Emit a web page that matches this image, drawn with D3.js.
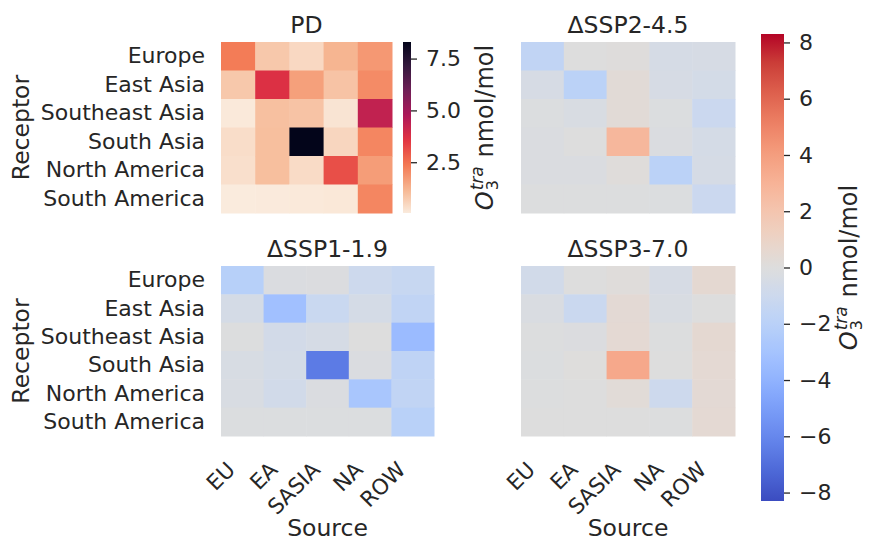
<!DOCTYPE html>
<html>
<head>
<meta charset="utf-8">
<script src="https://cdn.jsdelivr.net/npm/d3@7"></script>
<style>
  body { margin: 0; background: #fff; }
  text { font-family: "DejaVu Sans", sans-serif; fill: #262626; }
</style>
</head>
<body>
<script>
// ---- data ----
var receptors = ["Europe", "East Asia", "Southeast Asia", "South Asia", "North America", "South America"];
var sources = ["EU", "EA", "SASIA", "NA", "ROW"];

// rows = receptors, cols = sources (nmol/mol)
var pd = [
  [2.3, 0.8, 0.46, 1.2, 1.77],
  [0.8, 3.7, 1.6, 0.9, 2.0],
  [0.1, 0.97, 0.9, 0.2, 4.3],
  [0.35, 1.0, 8.3, 0.5, 2.1],
  [0.3, 1.0, 0.4, 3.1, 1.67],
  [0.05, 0.07, 0.1, 0.12, 2.1]
];
var ssp245 = [
  [-1.6, 0.0, 0.1, -0.5, -0.4],
  [-0.4, -1.9, 0.3, -0.4, -0.6],
  [-0.1, -0.3, 0.3, -0.1, -1.1],
  [-0.2, 0.0, 2.8, -0.2, -0.55],
  [-0.2, -0.2, 0.15, -1.9, -0.5],
  [-0.05, -0.05, -0.05, -0.1, -1.1]
];
var ssp119 = [
  [-2.1, -0.2, -0.15, -1.0, -1.3],
  [-0.55, -3.2, -1.2, -0.55, -1.6],
  [-0.05, -0.65, -0.5, 0.0, -3.5],
  [-0.35, -0.6, -6.5, -0.2, -1.7],
  [-0.3, -0.75, -0.2, -2.8, -1.6],
  [-0.1, -0.1, -0.1, -0.1, -2.0]
];
var ssp370 = [
  [-0.75, 0.0, 0.15, -0.4, 0.5],
  [-0.25, -1.15, 0.4, -0.3, 0.0],
  [-0.05, -0.15, 0.45, -0.05, 0.5],
  [-0.1, 0.05, 3.5, 0.0, 0.45],
  [-0.05, 0.0, 0.25, -1.0, 0.4],
  [0.0, 0.0, 0.0, -0.05, 0.45]
];
var pdTicks = [2.5, 5.0, 7.5];
var diffTicks = [-8, -6, -4, -2, 0, 2, 4, 6, 8];

// colormaps (rocket, coolwarm)
var rocketStops = ["#03051a", "#35193e", "#701f57", "#ad1759", "#e13342", "#f37651", "#f6b48f", "#faebdd"];
var coolwarmStops = ["#3b4cc0", "#4d68d7", "#6282ea", "#779af7", "#8db0fe", "#a3c2ff", "#b8d0f9", "#ccd9ee",
  "#dddddd", "#ecd3c5", "#f5c4ad", "#f7b194", "#f49a7b", "#ec7f63", "#de604d", "#cb3e38", "#b40426"];

var rocket = d3.piecewise(d3.interpolateRgb, rocketStops);
var coolwarm = d3.piecewise(d3.interpolateRgb, coolwarmStops);

var flatPd = d3.merge(pd);
var pdMin = d3.min(flatPd), pdMax = d3.max(flatPd);
var lim = pdMax;
var pdT = d3.scaleLinear().domain([pdMin, pdMax]).range([1, 0]).clamp(true);
var dT = d3.scaleLinear().domain([-lim, lim]).range([0, 1]).clamp(true);
function pdColor(v) { return rocket(pdT(v)); }
function dColor(v) { return coolwarm(dT(v)); }

var tickFont = "22px", labelFont = "23.5px";

var svg = d3.select("body").append("svg")
  .attr("width", 870)
  .attr("height", 542);

var panels = [
  {data: pd, title: "PD", x0: 221, x1: 392, y0: 42, y1: 213, color: pdColor, yl: true, xl: false},
  {data: ssp245, title: "\u0394SSP2-4.5", x0: 521, x1: 735, y0: 42, y1: 213, color: dColor, yl: false, xl: false},
  {data: ssp119, title: "\u0394SSP1-1.9", x0: 221, x1: 434, y0: 266, y1: 436, color: dColor, yl: true, xl: true},
  {data: ssp370, title: "\u0394SSP3-7.0", x0: 521, x1: 735, y0: 266, y1: 436, color: dColor, yl: false, xl: true}
];

panels.forEach(function(p) {
  var x = d3.scaleBand().domain(sources).range([p.x0, p.x1]);
  var y = d3.scaleBand().domain(receptors).range([p.y0, p.y1]);
  var g = svg.append("g");

  var cells = [];
  p.data.forEach(function(row, i) {
    row.forEach(function(v, j) { cells.push({r: receptors[i], s: sources[j], v: v}); });
  });

  g.selectAll("rect").data(cells).enter().append("rect")
    .attr("x", function(d) { return x(d.s); })
    .attr("y", function(d) { return y(d.r); })
    .attr("width", x.bandwidth() + 0.5)
    .attr("height", y.bandwidth() + 0.5)
    .attr("fill", function(d) { return p.color(d.v); });

  g.append("text")
    .attr("x", (p.x0 + p.x1) / 2)
    .attr("y", p.y0 - 9)
    .attr("text-anchor", "middle")
    .style("font-size", labelFont)
    .text(p.title);

  if (p.yl) {
    var ya = g.append("g")
      .attr("transform", "translate(" + p.x0 + ",0)")
      .call(d3.axisLeft(y).tickSize(0).tickPadding(16));
    ya.select(".domain").remove();
    ya.selectAll("text").style("font-size", tickFont).style("font-family", "DejaVu Sans").attr("fill", "#262626");

    g.append("text")
      .attr("transform", "translate(29," + (p.y0 + p.y1) / 2 + ") rotate(-90)")
      .attr("text-anchor", "middle")
      .style("font-size", labelFont)
      .text("Receptor");
  }

  if (p.xl) {
    var xa = g.append("g")
      .attr("transform", "translate(0," + p.y1 + ")")
      .call(d3.axisBottom(x).tickSize(0));
    xa.select(".domain").remove();
    xa.selectAll("text")
      .attr("x", 0).attr("y", 0).attr("dy", 0)
      .attr("text-anchor", "end")
      .attr("transform", "translate(-6,35) rotate(-45)")
      .style("font-size", "21.5px").style("font-family", "DejaVu Sans").attr("fill", "#262626");

    g.append("text")
      .attr("x", (p.x0 + p.x1) / 2)
      .attr("y", 536)
      .attr("text-anchor", "middle")
      .style("font-size", labelFont)
      .text("Source");
  }
});

// ---- colorbars ----
var defs = svg.append("defs");
function gradient(id, interp) {
  var lg = defs.append("linearGradient").attr("id", id)
    .attr("x1", 0).attr("y1", 1).attr("x2", 0).attr("y2", 0);
  d3.range(0, 1.0001, 0.02).forEach(function(t) {
    lg.append("stop").attr("offset", t).attr("stop-color", interp(t));
  });
}
gradient("gPd", function(t) { return rocket(1 - t); });
gradient("gDiff", coolwarm);

function unitLabel(bx, cy) {
  var g = svg.append("g").attr("transform", "translate(" + bx + "," + cy + ") rotate(-90)");
  var o = g.append("text").style("font-size", "24px").style("font-style", "italic").text("O");
  var ow = o.node().getComputedTextLength();
  var sup = g.append("text").attr("x", ow + 1).attr("y", -10)
    .style("font-size", "17px").style("font-style", "italic").text("tra");
  var sw = sup.node().getComputedTextLength();
  g.append("text").attr("x", ow + 1).attr("y", 5).style("font-size", "16px").text("3");
  var rest = g.append("text").attr("x", ow + sw + 2).style("font-size", "24px").text("\u00a0nmol/mol");
  var total = ow + sw + 2 + rest.node().getComputedTextLength();
  g.selectAll("text").attr("transform", "translate(" + (-total / 2) + ",0)");
}

function colorbar(x0, x1, y0, y1, id, domain, ticks, fmt, labelX) {
  svg.append("rect")
    .attr("x", x0).attr("y", y0)
    .attr("width", x1 - x0).attr("height", y1 - y0)
    .attr("fill", "url(#" + id + ")");
  var s = d3.scaleLinear().domain(domain).range([y1, y0]);
  var ax = svg.append("g")
    .attr("transform", "translate(" + x1 + ",0)")
    .call(d3.axisRight(s).tickValues(ticks).tickSize(6).tickPadding(9).tickFormat(fmt));
  ax.select(".domain").remove();
  ax.selectAll("line").attr("stroke", "#262626").attr("stroke-width", 1.3);
  ax.selectAll("text").style("font-size", tickFont).style("font-family", "DejaVu Sans").attr("fill", "#262626");
  unitLabel(labelX, (y0 + y1) / 2);
}

colorbar(403, 411, 42, 213, "gPd", [pdMin, pdMax], pdTicks, d3.format(".1f"), 493);
colorbar(761, 784, 34, 501, "gDiff", [-lim, lim], diffTicks, function(d) { return d3.format("d")(d).replace("-", "\u2212"); }, 857);
</script>
</body>
</html>
